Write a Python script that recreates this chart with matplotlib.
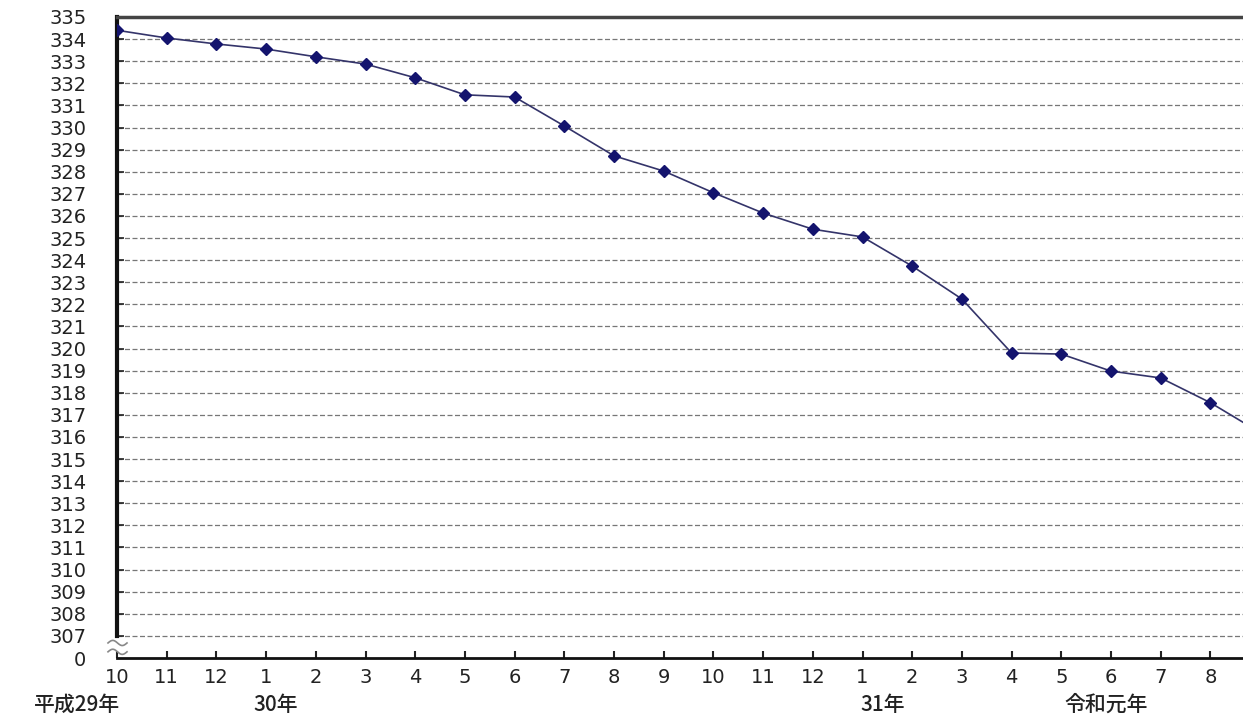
import numpy as np
import matplotlib
matplotlib.use("Agg")
import matplotlib.pyplot as plt
from matplotlib.transforms import blended_transform_factory

plt.rcParams['font.family'] = ['DejaVu Sans', 'Noto Sans CJK JP']

months = ["10", "11", "12", "1", "2", "3", "4", "5", "6", "7", "8",
          "9", "10", "11", "12", "1", "2", "3", "4", "5", "6", "7", "8"]
values = [334.4, 334.05, 333.78, 333.55, 333.2, 332.87, 332.25, 331.48, 331.38,
          330.07, 328.72, 328.03, 327.05, 326.13, 325.4, 325.05, 323.73, 322.24,
          319.8, 319.75, 318.98, 318.67, 317.55, 316.2]
year_labels = ["平成29年", "30年", "31年", "令和元年"]
year_pos = [-0.8, 3.2, 15.4, 19.9]
y_ticks = list(range(307, 336))

fig = plt.figure(figsize=(12.43, 7.18), dpi=100)
ax = fig.add_axes([117 / 1243, 1 - 658 / 718, 1 - 117 / 1243, (658 - 17) / 718])

x = np.arange(len(values))
ax.plot(x, values, color='#34346a', lw=1.2, marker='D', markersize=6.5,
        markerfacecolor='#14146e', markeredgecolor='#14146e', zorder=3)

ax.set_xlim(0, (1243 - 117) / 49.7)
ax.set_ylim(306, 335)

for yv in y_ticks[:-1]:
    ax.axhline(yv, color='#777777', lw=0.9, ls=(0, (4, 2)), zorder=1)

ax.set_yticks([306] + y_ticks)
ax.set_yticklabels(["0"] + [str(v) for v in y_ticks])
ax.set_xticks(np.arange(len(months)))
ax.set_xticklabels(months)

ax.tick_params(axis='y', direction='in', length=5, width=1.2, pad=22,
               labelsize=14, colors='#222222')
ax.tick_params(axis='x', direction='in', length=5, width=1.5, pad=7,
               labelsize=14, colors='#222222')
ax.yaxis.get_major_ticks()[0].tick1line.set_visible(False)

ax.spines['right'].set_visible(False)
ax.spines['left'].set_bounds(307, 335)
ax.spines['left'].set_linewidth(3)
ax.spines['left'].set_color('#111111')
ax.spines['top'].set_linewidth(2.5)
ax.spines['top'].set_color('#444444')
ax.spines['bottom'].set_linewidth(2)
ax.spines['bottom'].set_color('#111111')

# axis break marks
tr = ax.transAxes
bx = np.linspace(-9 / 1126, 10 / 1126, 30)
wave = 0.004 * np.sin((bx - bx[0]) / (bx[-1] - bx[0]) * 2 * np.pi)
for yb in [306.68, 306.28]:
    ybax = (yb - 306) / 29
    ax.plot(bx, ybax + wave, transform=tr, color='#888888', lw=1.2, clip_on=False)

# era / year labels
btr = blended_transform_factory(ax.transData, fig.transFigure)
for lab, xp in zip(year_labels, year_pos):
    ax.text(xp, 1 - 705 / 718, lab, transform=btr, ha='center', va='center',
            fontsize=15, color='#222222', clip_on=False,
            family=['Noto Sans CJK JP', 'DejaVu Sans'], fontweight='medium')

fig.savefig("out.png", dpi=100, facecolor='white')
